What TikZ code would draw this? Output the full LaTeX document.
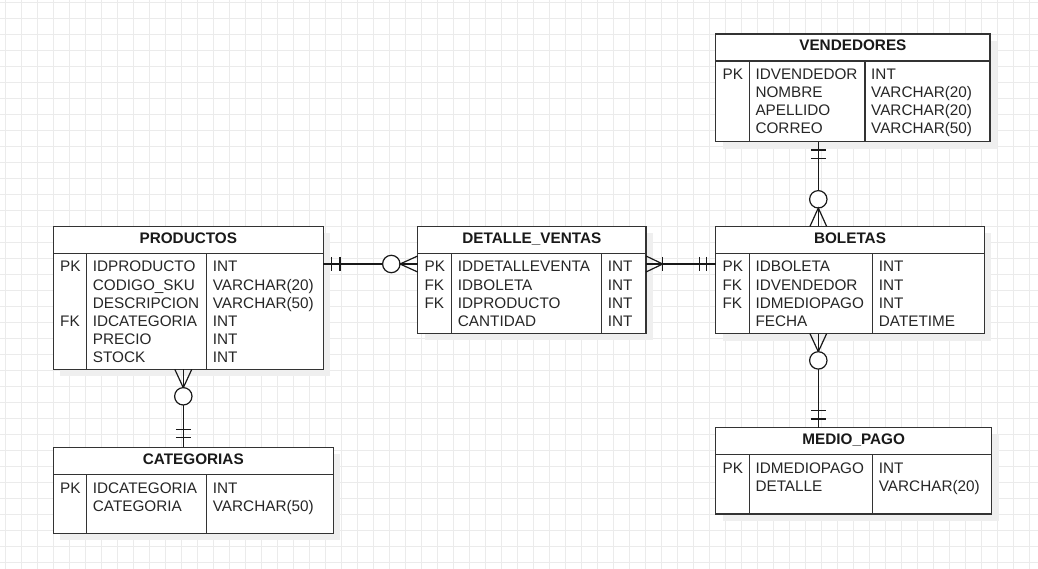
\documentclass[tikz,border=0pt]{standalone}
\usepackage{fontspec}
\setmainfont{Liberation Sans}
\usetikzlibrary{calc}
\definecolor{gridc}{HTML}{EBEBEB}
\definecolor{shadc}{HTML}{EFEFEF}
\tikzset{
 tbl/.style={draw=black!80, line width=1.3pt, fill=white, inner sep=0pt, outer sep=0pt},
 tline/.style={draw=black!80, line width=1.3pt},
 shad/.style={fill=shadc},
 txt/.style={inner sep=0pt, text=black!85, font=\fontsize{15.3}{18}\selectfont},
 ttl/.style={inner sep=0pt, text=black!90, font=\fontsize{15.3}{18}\selectfont\bfseries},
 conn/.style={draw=black!90, line width=1.2pt},
 gridline/.style={draw=gridc, line width=1pt}
}
% #1 name, #2 x1, #3 top, #4 x2, #5 bottom, #6 d1, #7 d2, #8 title, #9 rows
\newcommand{\ertab}[9]{%
 \fill[shad] (#2+7,#3+7) rectangle (#4+7,#5+7);
 \node[tbl, anchor=north west, minimum width={#4-#2}, minimum height={#5-#3}] (#1) at (#2,#3) {};
 \draw[tline] (#2,#3+27) -- (#4,#3+27);
 \draw[tline] (#6,#3+27) -- (#6,#5);
 \draw[tline] (#7,#3+27) -- (#7,#5);
 \node[ttl, anchor=base] (#1-title) at ({(#2+#4)/2},{#3+17}) {#8};
 \foreach \k/\f/\t [count=\i] in {#9} {
  \node[txt, anchor=base west] (#1-k\i) at ({#2+6.7},{#3+45.7+18*(\i-1)}) {\k};
  \node[txt, anchor=base west] (#1-f\i) at ({#6+6},{#3+45.7+18*(\i-1)}) {\f};
  \node[txt, anchor=base west] (#1-t\i) at ({#7+6},{#3+45.7+18*(\i-1)}) {\t};
 }%
}
\begin{document}
\begin{tikzpicture}[x=1pt,y=-1pt]
\useasboundingbox (0,0) rectangle (1038,569);
\fill[white] (0,0) rectangle (1038,569);
\foreach \x in {5.3,21.3,...,1037.3} \draw[gridline] (\x,0) -- (\x,569);
\foreach \y in {2.3,18.3,...,568.3} \draw[gridline] (0,\y) -- (1038,\y);

\ertab{prod}{53.3}{226.3}{323.3}{369.3}{86.7}{206.7}{PRODUCTOS}{PK/IDPRODUCTO/INT, {}/CODIGO\_SKU/VARCHAR(20), {}/DESCRIPCION/VARCHAR(50), FK/IDCATEGORIA/INT, {}/PRECIO/INT, {}/STOCK/INT}
\ertab{det}{417.7}{226.3}{646}{333.3}{451.7}{601.7}{DETALLE\_VENTAS}{PK/IDDETALLEVENTA/INT, FK/IDBOLETA/INT, FK/IDPRODUCTO/INT, {}/CANTIDAD/INT}
\ertab{bol}{715.7}{226.3}{984.3}{333.7}{749.3}{872.7}{BOLETAS}{PK/IDBOLETA/INT, FK/IDVENDEDOR/INT, FK/IDMEDIOPAGO/INT, {}/FECHA/DATETIME}
\ertab{ven}{715.7}{34}{990}{141.7}{749.3}{865}{VENDEDORES}{PK/IDVENDEDOR/INT, {}/NOMBRE/VARCHAR(20), {}/APELLIDO/VARCHAR(20), {}/CORREO/VARCHAR(50)}
\ertab{mp}{715.7}{427.7}{991.7}{514}{749.3}{872.7}{MEDIO\_PAGO}{PK/IDMEDIOPAGO/INT, {}/DETALLE/VARCHAR(20)}
\ertab{cat}{53.3}{447.3}{333.3}{533.3}{86.7}{206.7}{CATEGORIAS}{PK/IDCATEGORIA/INT, {}/CATEGORIA/VARCHAR(50)}

\coordinate (r1) at (0,264);
\coordinate (v1) at (818.3,0);
\coordinate (v2) at (183.3,0);

% PRODUCTOS -- DETALLE_VENTAS
\draw[conn] (prod.east |- r1) coordinate (c1a) -- (det.west |- r1) coordinate (c1b);
\draw[conn] ($(c1a)+(8.4,-7)$) -- +(0,14);
\draw[conn] ($(c1a)+(16.7,-7)$) -- +(0,14);
\draw[conn, fill=white] ($(c1b)+(-26.4,0)$) circle (8.7pt);
\draw[conn] ($(c1b)+(0,-8)$) -- ($(c1b)+(-17.7,0)$) -- ($(c1b)+(0,8)$);

% DETALLE_VENTAS -- BOLETAS
\draw[conn] (det.east |- r1) coordinate (c2a) -- (bol.west |- r1) coordinate (c2b);
\draw[conn] ($(c2a)+(0,-8)$) -- ($(c2a)+(16.7,0)$) -- ($(c2a)+(0,8)$);
\draw[conn] ($(c2a)+(16.7,-7)$) -- +(0,14);
\draw[conn] ($(c2b)+(-16.4,-7)$) -- +(0,14);
\draw[conn] ($(c2b)+(-9,-7)$) -- +(0,14);

% VENDEDORES -- BOLETAS
\draw[conn] (v1 |- ven.south) coordinate (c3a) -- (v1 |- bol.north) coordinate (c3b);
\draw[conn] ($(c3a)+(-7.5,8.3)$) -- +(15,0);
\draw[conn] ($(c3a)+(-7.5,16.6)$) -- +(15,0);
\draw[conn, fill=white] ($(c3b)+(0,-27)$) circle (8.7pt);
\draw[conn] ($(c3b)+(-8.3,0)$) -- ($(c3b)+(0,-18.3)$) -- ($(c3b)+(8.3,0)$);

% BOLETAS -- MEDIO_PAGO
\draw[conn] (v1 |- bol.south) coordinate (c4a) -- (v1 |- mp.north) coordinate (c4b);
\draw[conn] ($(c4a)+(-8.3,0)$) -- ($(c4a)+(0,18)$) -- ($(c4a)+(8.3,0)$);
\draw[conn, fill=white] ($(c4a)+(0,26.7)$) circle (8.7pt);
\draw[conn] ($(c4b)+(-7.5,-17)$) -- +(15,0);
\draw[conn] ($(c4b)+(-7.5,-8.7)$) -- +(15,0);

% PRODUCTOS -- CATEGORIAS
\draw[conn] (v2 |- prod.south) coordinate (c5a) -- (v2 |- cat.north) coordinate (c5b);
\draw[conn] ($(c5a)+(-8.5,0)$) -- ($(c5a)+(0,18.4)$) -- ($(c5a)+(8.5,0)$);
\draw[conn, fill=white] ($(c5a)+(0,27)$) circle (8.7pt);
\draw[conn] ($(c5b)+(-7.5,-18)$) -- +(15,0);
\draw[conn] ($(c5b)+(-7.5,-9.6)$) -- +(15,0);
\end{tikzpicture}
\end{document}
